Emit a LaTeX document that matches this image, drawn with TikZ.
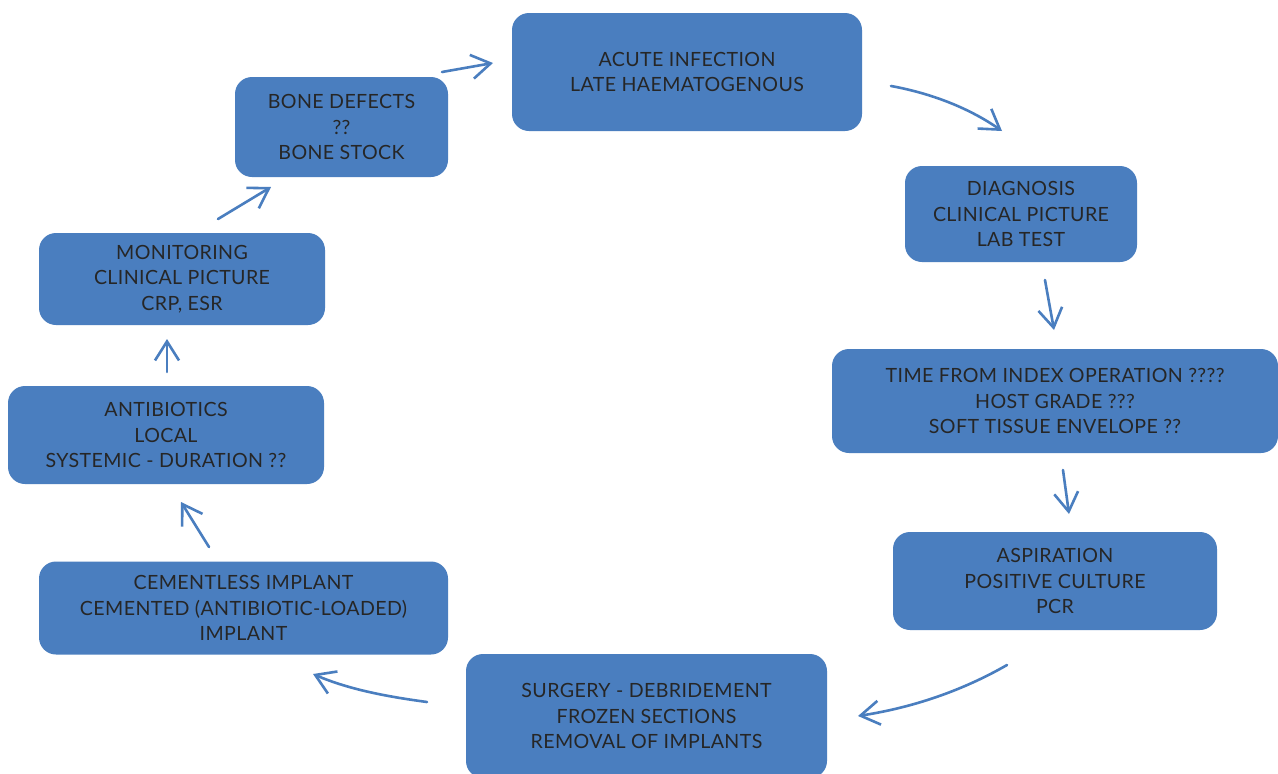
\documentclass[tikz,border=0pt]{standalone}
\usepackage{fontspec}
\setmainfont{Lato}[LetterSpace=2.0]
\usetikzlibrary{arrows.meta}
\definecolor{boxblue}{HTML}{4A7EBF}
\definecolor{arrblue}{HTML}{4A7EBF}
\definecolor{txtgray}{HTML}{262626}
\tikzset{
  stepbox/.style={fill=boxblue, rounded corners=17pt, inner sep=0pt, align=center,
    text=txtgray, font=\fontsize{19.6}{25.5}\selectfont},
  flow/.style={draw=arrblue, line width=2.6pt, line cap=round,
    -{Straight Barb[length=19pt, width=24pt, line width=2.6pt]}}
}
\begin{document}
\begin{tikzpicture}[x=1pt, y=-1pt]
\useasboundingbox (0,0) rectangle (1278,774);
\clip (0,0) rectangle (1278,774);
\fill[white] (0,0) rectangle (1278,774);

\node[stepbox, minimum width=350pt, minimum height=118pt] (acute) at (687,72)
  {ACUTE INFECTION\\LATE HAEMATOGENOUS};
\node[stepbox, minimum width=232pt, minimum height=96pt] (diag) at (1021,214)
  {DIAGNOSIS\\CLINICAL PICTURE\\LAB TEST};
\node[stepbox, minimum width=446pt, minimum height=104pt] (time) at (1055,401)
  {TIME FROM INDEX OPERATION ????\\HOST GRADE ???\\SOFT TISSUE ENVELOPE ??};
\node[stepbox, minimum width=324pt, minimum height=98pt] (asp) at (1055,581)
  {ASPIRATION\\POSITIVE CULTURE\\PCR};
\node[stepbox, minimum width=361pt, minimum height=124pt] (surg) at (646.5,716)
  {SURGERY - DEBRIDEMENT\\FROZEN SECTIONS\\REMOVAL OF IMPLANTS};
\node[stepbox, minimum width=409pt, minimum height=93pt] (cem) at (243.5,608)
  {CEMENTLESS IMPLANT\\CEMENTED (ANTIBIOTIC-LOADED)\\IMPLANT};
\node[stepbox, minimum width=316pt, minimum height=98pt] (anti) at (166,435)
  {ANTIBIOTICS\\LOCAL\\SYSTEMIC - DURATION ??};
\node[stepbox, minimum width=286pt, minimum height=92pt] (mon) at (182,279)
  {MONITORING\\CLINICAL PICTURE\\CRP, ESR};
\node[stepbox, minimum width=213pt, minimum height=100pt] (bone) at (341.5,127)
  {BONE DEFECTS\\??\\BONE STOCK};

% arrow end points
\coordinate (a1) at (442,72);   \coordinate (a2) at (493,63);
\coordinate (b1) at (891,86);   \coordinate (b2) at (1002,131);
\coordinate (c1) at (1045,280); \coordinate (c2) at (1054,330);
\coordinate (d1) at (1063,470); \coordinate (d2) at (1069,514);
\coordinate (e1) at (1007,665); \coordinate (e2) at (858,716);
\coordinate (f1) at (427,702);  \coordinate (f2) at (313,674);
\coordinate (g1) at (209,547);  \coordinate (g2) at (181,502);
\coordinate (h1) at (167,372);  \coordinate (h2) at (167,339);
\coordinate (i1) at (218,219);  \coordinate (i2) at (271,187);

\draw[flow] (a1) -- (a2);
\draw[flow] (b1) .. controls (935,94) and (972,110) .. (b2);
\draw[flow] (c1) .. controls (1048,297) and (1051,313) .. (c2);
\draw[flow] (d1) .. controls (1065,485) and (1067,499) .. (d2);
\draw[flow] (e1) .. controls (960,692) and (910,708) .. (e2);
\draw[flow] (f1) .. controls (390,697) and (350,690) .. (f2);
\draw[flow] (g1) -- (g2);
\draw[flow] (h1) -- (h2);
\draw[flow] (i1) -- (i2);
\end{tikzpicture}
\end{document}
